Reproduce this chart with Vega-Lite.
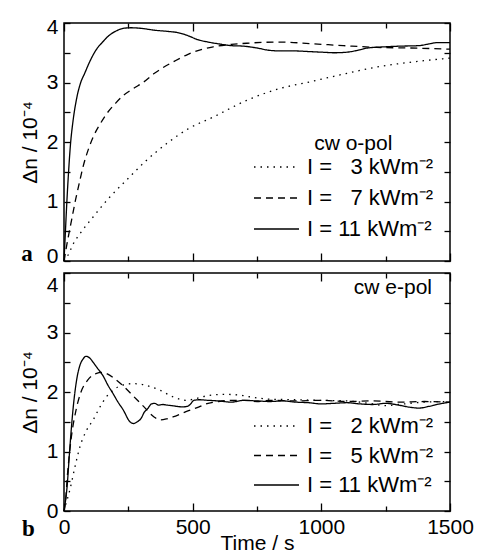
{
  "$schema": "https://vega.github.io/schema/vega-lite/v6.json",
  "padding": {"left": 18, "top": 15, "right": 10, "bottom": 4},
  "background": "white",
  "config": {
    "view": {"stroke": "black", "strokeWidth": 1.5},
    "axis": {"grid": false, "domain": false, "labelFlush": false, "tickColor": "black", "tickWidth": 1.3, "labelColor": "black", "titleColor": "black", "labelFont": "Liberation Sans", "titleFont": "Liberation Sans", "labelFontSize": 21, "titleFontSize": 21, "titleFontWeight": "normal"},
    "legend": {"labelFont": "Liberation Sans", "labelFontSize": 22, "labelColor": "black"}
  },
  "datasets": {
    "opol": [
      {"s":"11","t":0,"v":0},{"s":"11","t":5,"v":0.45},{"s":"11","t":10,"v":0.9},{"s":"11","t":15,"v":1.3},{"s":"11","t":20,"v":1.65},{"s":"11","t":25,"v":1.95},{"s":"11","t":35,"v":2.35},{"s":"11","t":50,"v":2.75},{"s":"11","t":65,"v":3.0},{"s":"11","t":80,"v":3.15},{"s":"11","t":100,"v":3.35},{"s":"11","t":125,"v":3.55},{"s":"11","t":150,"v":3.68},{"s":"11","t":175,"v":3.79},{"s":"11","t":200,"v":3.86},{"s":"11","t":230,"v":3.91},{"s":"11","t":260,"v":3.92},{"s":"11","t":300,"v":3.91},{"s":"11","t":350,"v":3.88},{"s":"11","t":400,"v":3.86},{"s":"11","t":440,"v":3.84},{"s":"11","t":480,"v":3.79},{"s":"11","t":520,"v":3.72},{"s":"11","t":560,"v":3.68},{"s":"11","t":600,"v":3.65},{"s":"11","t":650,"v":3.62},{"s":"11","t":700,"v":3.61},{"s":"11","t":750,"v":3.58},{"s":"11","t":800,"v":3.54},{"s":"11","t":850,"v":3.53},{"s":"11","t":900,"v":3.53},{"s":"11","t":950,"v":3.52},{"s":"11","t":1000,"v":3.51},{"s":"11","t":1050,"v":3.5},{"s":"11","t":1100,"v":3.51},{"s":"11","t":1150,"v":3.55},{"s":"11","t":1180,"v":3.58},{"s":"11","t":1250,"v":3.6},{"s":"11","t":1300,"v":3.61},{"s":"11","t":1380,"v":3.62},{"s":"11","t":1420,"v":3.65},{"s":"11","t":1450,"v":3.67},{"s":"11","t":1500,"v":3.67},
      {"s":"7","t":0,"v":0},{"s":"7","t":10,"v":0.25},{"s":"7","t":20,"v":0.48},{"s":"7","t":30,"v":0.7},{"s":"7","t":45,"v":1.03},{"s":"7","t":60,"v":1.32},{"s":"7","t":75,"v":1.6},{"s":"7","t":95,"v":1.88},{"s":"7","t":115,"v":2.1},{"s":"7","t":140,"v":2.3},{"s":"7","t":165,"v":2.47},{"s":"7","t":200,"v":2.65},{"s":"7","t":230,"v":2.78},{"s":"7","t":270,"v":2.9},{"s":"7","t":307,"v":3.0},{"s":"7","t":350,"v":3.15},{"s":"7","t":385,"v":3.25},{"s":"7","t":430,"v":3.36},{"s":"7","t":480,"v":3.47},{"s":"7","t":530,"v":3.55},{"s":"7","t":580,"v":3.6},{"s":"7","t":650,"v":3.64},{"s":"7","t":710,"v":3.66},{"s":"7","t":840,"v":3.68},{"s":"7","t":968,"v":3.65},{"s":"7","t":1085,"v":3.62},{"s":"7","t":1215,"v":3.59},{"s":"7","t":1345,"v":3.58},{"s":"7","t":1500,"v":3.56},
      {"s":"3","t":0,"v":0},{"s":"3","t":16,"v":0.1},{"s":"3","t":36,"v":0.29},{"s":"3","t":62,"v":0.46},{"s":"3","t":113,"v":0.74},{"s":"3","t":179,"v":1.08},{"s":"3","t":243,"v":1.36},{"s":"3","t":320,"v":1.69},{"s":"3","t":398,"v":1.97},{"s":"3","t":482,"v":2.22},{"s":"3","t":580,"v":2.42},{"s":"3","t":710,"v":2.7},{"s":"3","t":840,"v":2.9},{"s":"3","t":955,"v":3.01},{"s":"3","t":1085,"v":3.14},{"s":"3","t":1215,"v":3.26},{"s":"3","t":1345,"v":3.34},{"s":"3","t":1500,"v":3.41}
    ],
    "epol": [
      {"s":"11","t":0,"v":0},{"s":"11","t":12,"v":0.41},{"s":"11","t":23,"v":1.08},{"s":"11","t":36,"v":1.75},{"s":"11","t":49,"v":2.2},{"s":"11","t":62,"v":2.45},{"s":"11","t":75,"v":2.56},{"s":"11","t":85,"v":2.6},{"s":"11","t":100,"v":2.57},{"s":"11","t":113,"v":2.5},{"s":"11","t":130,"v":2.4},{"s":"11","t":152,"v":2.27},{"s":"11","t":170,"v":2.12},{"s":"11","t":191,"v":1.97},{"s":"11","t":210,"v":1.83},{"s":"11","t":230,"v":1.7},{"s":"11","t":256,"v":1.5},{"s":"11","t":270,"v":1.47},{"s":"11","t":285,"v":1.5},{"s":"11","t":300,"v":1.56},{"s":"11","t":312,"v":1.66},{"s":"11","t":325,"v":1.72},{"s":"11","t":340,"v":1.8},{"s":"11","t":352,"v":1.81},{"s":"11","t":368,"v":1.78},{"s":"11","t":384,"v":1.79},{"s":"11","t":400,"v":1.78},{"s":"11","t":420,"v":1.77},{"s":"11","t":436,"v":1.76},{"s":"11","t":461,"v":1.75},{"s":"11","t":480,"v":1.76},{"s":"11","t":490,"v":1.79},{"s":"11","t":505,"v":1.86},{"s":"11","t":525,"v":1.87},{"s":"11","t":560,"v":1.86},{"s":"11","t":600,"v":1.85},{"s":"11","t":650,"v":1.83},{"s":"11","t":700,"v":1.86},{"s":"11","t":750,"v":1.85},{"s":"11","t":800,"v":1.84},{"s":"11","t":850,"v":1.85},{"s":"11","t":900,"v":1.83},{"s":"11","t":950,"v":1.82},{"s":"11","t":1000,"v":1.8},{"s":"11","t":1050,"v":1.81},{"s":"11","t":1100,"v":1.82},{"s":"11","t":1150,"v":1.8},{"s":"11","t":1200,"v":1.79},{"s":"11","t":1250,"v":1.81},{"s":"11","t":1300,"v":1.78},{"s":"11","t":1350,"v":1.74},{"s":"11","t":1380,"v":1.73},{"s":"11","t":1420,"v":1.76},{"s":"11","t":1460,"v":1.8},{"s":"11","t":1500,"v":1.83},
      {"s":"5","t":0,"v":0},{"s":"5","t":5,"v":0.13},{"s":"5","t":14,"v":0.64},{"s":"5","t":27,"v":1.19},{"s":"5","t":47,"v":1.7},{"s":"5","t":66,"v":2.0},{"s":"5","t":92,"v":2.2},{"s":"5","t":124,"v":2.31},{"s":"5","t":150,"v":2.33},{"s":"5","t":170,"v":2.3},{"s":"5","t":195,"v":2.23},{"s":"5","t":233,"v":2.09},{"s":"5","t":272,"v":1.92},{"s":"5","t":311,"v":1.75},{"s":"5","t":350,"v":1.58},{"s":"5","t":373,"v":1.53},{"s":"5","t":400,"v":1.55},{"s":"5","t":423,"v":1.58},{"s":"5","t":474,"v":1.67},{"s":"5","t":525,"v":1.75},{"s":"5","t":552,"v":1.8},{"s":"5","t":600,"v":1.84},{"s":"5","t":656,"v":1.86},{"s":"5","t":700,"v":1.86},{"s":"5","t":750,"v":1.84},{"s":"5","t":800,"v":1.86},{"s":"5","t":900,"v":1.85},{"s":"5","t":1000,"v":1.86},{"s":"5","t":1100,"v":1.84},{"s":"5","t":1200,"v":1.85},{"s":"5","t":1300,"v":1.83},{"s":"5","t":1400,"v":1.84},{"s":"5","t":1500,"v":1.83},
      {"s":"2","t":0,"v":0},{"s":"2","t":5,"v":0.08},{"s":"2","t":23,"v":0.36},{"s":"2","t":43,"v":0.75},{"s":"2","t":62,"v":1.08},{"s":"2","t":88,"v":1.36},{"s":"2","t":113,"v":1.53},{"s":"2","t":140,"v":1.75},{"s":"2","t":165,"v":1.92},{"s":"2","t":191,"v":2.03},{"s":"2","t":223,"v":2.11},{"s":"2","t":267,"v":2.14},{"s":"2","t":300,"v":2.13},{"s":"2","t":320,"v":2.11},{"s":"2","t":373,"v":2.03},{"s":"2","t":423,"v":1.92},{"s":"2","t":474,"v":1.86},{"s":"2","t":513,"v":1.89},{"s":"2","t":560,"v":1.94},{"s":"2","t":620,"v":1.96},{"s":"2","t":680,"v":1.95},{"s":"2","t":720,"v":1.92},{"s":"2","t":800,"v":1.88},{"s":"2","t":900,"v":1.87},{"s":"2","t":1000,"v":1.86},{"s":"2","t":1100,"v":1.85},{"s":"2","t":1200,"v":1.8},{"s":"2","t":1250,"v":1.77},{"s":"2","t":1300,"v":1.79},{"s":"2","t":1400,"v":1.83},{"s":"2","t":1500,"v":1.84}
    ],
    "origin": [{"t": 0, "v": 0}]
  },
  "resolve": {"scale": {"strokeDash": "independent"}, "legend": {"strokeDash": "independent"}},
  "spacing": 4,
  "vconcat": [
    {
      "width": 386, "height": 238,
      "resolve": {"axis": {"x": "independent", "y": "independent"}},
      "layer": [
        {
          "data": {"name": "opol"},
          "mark": {"type": "line", "color": "black", "strokeWidth": 1.3, "interpolate": "monotone"},
          "encoding": {
            "x": {"field": "t", "type": "quantitative", "scale": {"domain": [0, 1500], "nice": false},
              "axis": {"orient": "bottom", "values": [0, 500, 1000, 1500], "labels": false, "title": null, "tickSize": 8, "offset": -8}},
            "y": {"field": "v", "type": "quantitative", "scale": {"domain": [0, 4], "nice": false},
              "axis": {"orient": "left", "values": [0,0.5,1,1.5,2,2.5,3,3.5,4], "labelExpr": "datum.value % 1 === 0 ? '' + datum.value : ''",
                "title": "Δn / 10⁻⁴", "titlePadding": 6, "tickSize": 6, "offset": -6, "labelPadding": 6,
                "labelOffset": {"condition": [{"test": "datum.value === 4", "value": 4}, {"test": "datum.value === 0", "value": -5}], "value": 0}}},
            "strokeDash": {"field": "s", "type": "nominal",
              "scale": {"domain": ["3", "7", "11"], "range": [[1.5, 5], [7, 5], [1, 0]]},
              "legend": {"title": null, "orient": "none", "legendX": 189, "legendY": 134, "symbolType": "stroke", "symbolSize": 2025,
                "symbolStrokeWidth": 1.3, "symbolStrokeColor": "black", "clipHeight": 20, "rowPadding": 9, "labelOffset": 7, "padding": 0,
                "labelExpr": "datum.label == '11' ? 'I = 11 kWm\u207b\u00b2' : 'I = \u2007' + datum.label + ' kWm\u207b\u00b2'"}}
          }
        },
        {
          "data": {"name": "origin"},
          "mark": {"type": "point", "opacity": 0},
          "encoding": {
            "x": {"field": "t", "type": "quantitative", "scale": {"domain": [0, 1500], "nice": false},
              "axis": {"orient": "top", "values": [0, 500, 1000, 1500], "labels": false, "title": null, "tickSize": 8, "offset": -8}},
            "y": {"field": "v", "type": "quantitative", "scale": {"domain": [0, 4], "nice": false},
              "axis": {"orient": "right", "values": [0,0.5,1,1.5,2,2.5,3,3.5,4], "labels": false, "title": null, "tickSize": 6, "offset": -6}}
          }
        },
        {
          "data": {"name": "origin"},
          "mark": {"type": "point", "opacity": 0},
          "encoding": {
            "x": {"field": "t", "type": "quantitative", "scale": {"domain": [0, 1500], "nice": false},
              "axis": {"orient": "bottom", "values": [250, 750, 1250], "labels": false, "title": null, "tickSize": 5, "offset": -5}},
            "y": {"field": "v", "type": "quantitative", "scale": {"domain": [0, 4], "nice": false}, "axis": null}
          }
        },
        {
          "data": {"name": "origin"},
          "mark": {"type": "point", "opacity": 0},
          "encoding": {
            "x": {"field": "t", "type": "quantitative", "scale": {"domain": [0, 1500], "nice": false},
              "axis": {"orient": "top", "values": [250, 750, 1250], "labels": false, "title": null, "tickSize": 5, "offset": -5}},
            "y": {"field": "v", "type": "quantitative", "scale": {"domain": [0, 4], "nice": false}, "axis": null}
          }
        },
        {
          "data": {"values": [{"t": 972, "v": 1.87, "txt": "cw o-pol"}]},
          "mark": {"type": "text", "align": "left", "baseline": "alphabetic", "font": "Liberation Sans", "fontSize": 21, "color": "black"},
          "encoding": {
            "x": {"field": "t", "type": "quantitative", "scale": {"domain": [0, 1500], "nice": false}, "axis": null},
            "y": {"field": "v", "type": "quantitative", "scale": {"domain": [0, 4], "nice": false}, "axis": null},
            "text": {"field": "txt"}
          }
        },
        {
          "data": {"values": [{"t": -144, "v": 0, "txt": "a"}]},
          "mark": {"type": "text", "align": "center", "baseline": "alphabetic", "font": "Liberation Serif", "fontWeight": "bold", "fontSize": 23, "color": "black"},
          "encoding": {
            "x": {"field": "t", "type": "quantitative", "scale": {"domain": [0, 1500], "nice": false}, "axis": null},
            "y": {"field": "v", "type": "quantitative", "scale": {"domain": [0, 4], "nice": false}, "axis": null},
            "text": {"field": "txt"}
          }
        }
      ]
    },
    {
      "width": 386, "height": 238,
      "resolve": {"axis": {"x": "independent", "y": "independent"}},
      "layer": [
        {
          "data": {"name": "epol"},
          "mark": {"type": "line", "color": "black", "strokeWidth": 1.3, "interpolate": "monotone"},
          "encoding": {
            "x": {"field": "t", "type": "quantitative", "scale": {"domain": [0, 1500], "nice": false},
              "axis": {"orient": "bottom", "values": [0, 500, 1000, 1500], "format": "d", "labelFlush": false, "title": "Time / s", "titlePadding": -5, "labelPadding": 5, "tickSize": 8, "offset": -8}},
            "y": {"field": "v", "type": "quantitative", "scale": {"domain": [0, 4], "nice": false},
              "axis": {"orient": "left", "values": [0,0.5,1,1.5,2,2.5,3,3.5,4], "labelExpr": "datum.value % 1 === 0 ? '' + datum.value : ''",
                "title": "Δn / 10⁻⁴", "titlePadding": 6, "tickSize": 6, "offset": -6, "labelPadding": 6,
                "labelOffset": {"condition": {"test": "datum.value === 4", "value": 12}, "value": 0}}},
            "strokeDash": {"field": "s", "type": "nominal",
              "scale": {"domain": ["2", "5", "11"], "range": [[1.5, 5], [7, 5], [1, 0]]},
              "legend": {"title": null, "orient": "none", "legendX": 189, "legendY": 143, "symbolType": "stroke", "symbolSize": 2025,
                "symbolStrokeWidth": 1.3, "symbolStrokeColor": "black", "clipHeight": 20, "rowPadding": 7.5, "labelOffset": 7, "padding": 0,
                "labelExpr": "datum.label == '11' ? 'I = 11 kWm\u207b\u00b2' : 'I = \u2007' + datum.label + ' kWm\u207b\u00b2'"}}
          }
        },
        {
          "data": {"name": "origin"},
          "mark": {"type": "point", "opacity": 0},
          "encoding": {
            "x": {"field": "t", "type": "quantitative", "scale": {"domain": [0, 1500], "nice": false},
              "axis": {"orient": "top", "values": [0, 500, 1000, 1500], "labels": false, "title": null, "tickSize": 8, "offset": -8}},
            "y": {"field": "v", "type": "quantitative", "scale": {"domain": [0, 4], "nice": false},
              "axis": {"orient": "right", "values": [0,0.5,1,1.5,2,2.5,3,3.5,4], "labels": false, "title": null, "tickSize": 6, "offset": -6}}
          }
        },
        {
          "data": {"name": "origin"},
          "mark": {"type": "point", "opacity": 0},
          "encoding": {
            "x": {"field": "t", "type": "quantitative", "scale": {"domain": [0, 1500], "nice": false},
              "axis": {"orient": "bottom", "values": [250, 750, 1250], "labels": false, "title": null, "tickSize": 5, "offset": -5}},
            "y": {"field": "v", "type": "quantitative", "scale": {"domain": [0, 4], "nice": false}, "axis": null}
          }
        },
        {
          "data": {"name": "origin"},
          "mark": {"type": "point", "opacity": 0},
          "encoding": {
            "x": {"field": "t", "type": "quantitative", "scale": {"domain": [0, 1500], "nice": false},
              "axis": {"orient": "top", "values": [250, 750, 1250], "labels": false, "title": null, "tickSize": 5, "offset": -5}},
            "y": {"field": "v", "type": "quantitative", "scale": {"domain": [0, 4], "nice": false}, "axis": null}
          }
        },
        {
          "data": {"values": [{"t": 1430, "v": 3.65, "txt": "cw e-pol"}]},
          "mark": {"type": "text", "align": "right", "baseline": "alphabetic", "font": "Liberation Sans", "fontSize": 21, "color": "black"},
          "encoding": {
            "x": {"field": "t", "type": "quantitative", "scale": {"domain": [0, 1500], "nice": false}, "axis": null},
            "y": {"field": "v", "type": "quantitative", "scale": {"domain": [0, 4], "nice": false}, "axis": null},
            "text": {"field": "txt"}
          }
        },
        {
          "data": {"values": [{"t": -138, "v": -0.42, "txt": "b"}]},
          "mark": {"type": "text", "align": "center", "baseline": "alphabetic", "font": "Liberation Serif", "fontWeight": "bold", "fontSize": 23, "color": "black"},
          "encoding": {
            "x": {"field": "t", "type": "quantitative", "scale": {"domain": [0, 1500], "nice": false}, "axis": null},
            "y": {"field": "v", "type": "quantitative", "scale": {"domain": [0, 4], "nice": false}, "axis": null},
            "text": {"field": "txt"}
          }
        }
      ]
    }
  ]
}
